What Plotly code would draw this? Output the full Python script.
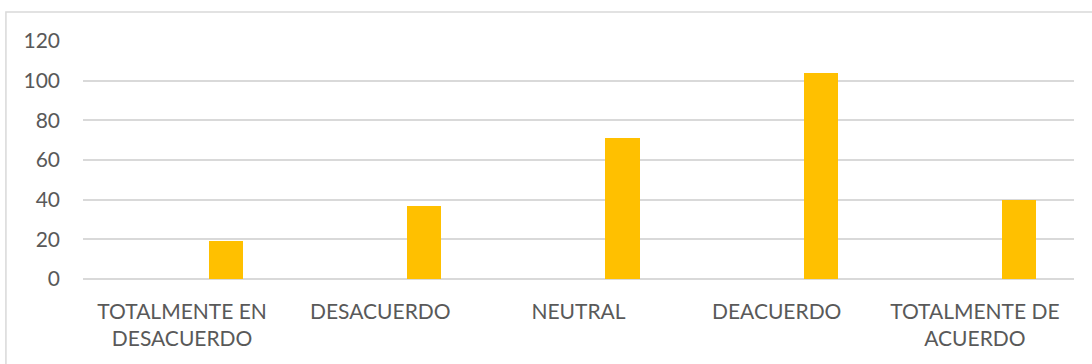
import plotly.graph_objects as go

categories = ["TOTALMENTE EN<br>DESACUERDO", "DESACUERDO", "NEUTRAL", "DEACUERDO", "TOTALMENTE DE<br>ACUERDO"]
values = [19, 37, 71, 104, 40]
y_ticks = [0, 20, 40, 60, 80, 100, 120]

fig = go.Figure()
fig.add_trace(go.Bar(
    x=categories, y=values,
    marker=dict(color="#FFC000", line=dict(width=0)),
    width=0.172, offset=0.136,
))

font = dict(family="Lato, Carlito, Calibri, sans-serif", size=21, color="#595959")

fig.update_layout(
    width=1092, height=364,
    margin=dict(l=83, r=18, t=41, b=85),
    plot_bgcolor="white", paper_bgcolor="white",
    showlegend=False,
    font=font,
    bargap=0,
    xaxis=dict(
        type="category", showgrid=False, zeroline=False,
        showline=False, ticks="", tickfont=font,
        ticklabelstandoff=18, range=[-0.5, 4.5],
    ),
    yaxis=dict(
        range=[0, 120], tickvals=y_ticks, ticktext=[str(v) for v in y_ticks],
        showgrid=True, gridcolor="#d9d9d9", gridwidth=1.5,
        zeroline=True, zerolinecolor="#d9d9d9", zerolinewidth=1.5,
        showline=False, ticks="", tickfont=font, ticklabelstandoff=22,
    ),
    shapes=[dict(
        type="rect", xref="paper", yref="paper",
        x0=(6 - 83) / 990, x1=1.2, y0=-0.5, y1=(279.5 - 12) / 238.5,
        line=dict(color="#d9d9d9", width=1.5), fillcolor="rgba(0,0,0,0)",
        layer="below",
    )],
)

fig.write_html("out.html")
